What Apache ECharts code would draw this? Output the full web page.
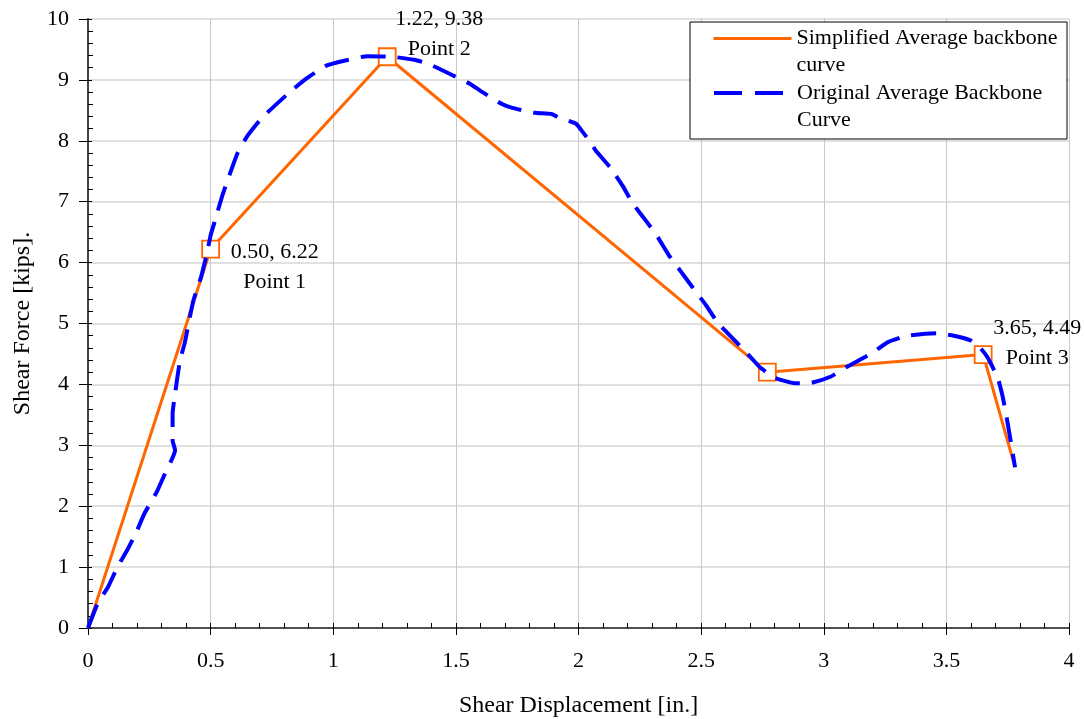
<!DOCTYPE html>
<html><head><meta charset="utf-8">
<script src="https://cdn.jsdelivr.net/npm/echarts@6/dist/echarts.min.js"></script>
<style>html,body{margin:0;padding:0;background:#fff}#c{width:1085px;height:719px}</style>
</head><body><div id="c"></div>
<script>
// ---- data ----
const simpX = [0, 0.50, 1.22, 2.77, 3.65, 3.78];
const simpY = [0, 6.22, 9.38, 4.20, 4.49, 2.64];
const simpMarked = [false, true, true, true, true, false];
const simpLabels = ['', 'Point 1', 'Point 2', '', 'Point 3', ''];

const origX = [0, 0.04, 0.08, 0.12, 0.16, 0.20, 0.23, 0.28, 0.31, 0.355, 0.345, 0.345, 0.355, 0.375, 0.395, 0.415, 0.43, 0.46, 0.485, 0.50, 0.52, 0.55, 0.61, 0.65, 0.71, 0.82, 0.89, 0.97, 1.04, 1.14, 1.24, 1.33, 1.39, 1.49, 1.56, 1.60, 1.69, 1.73, 1.82, 1.89, 1.92, 1.99, 2.02, 2.05, 2.07, 2.13, 2.18, 2.22, 2.28, 2.32, 2.37, 2.42, 2.475, 2.52, 2.57, 2.63, 2.69, 2.74, 2.80, 2.88, 2.94, 3.03, 3.09, 3.20, 3.26, 3.34, 3.46, 3.53, 3.60, 3.64, 3.67, 3.71, 3.73, 3.75, 3.78];
const origY = [0, 0.41, 0.66, 1.00, 1.28, 1.60, 1.88, 2.23, 2.50, 2.92, 3.08, 3.52, 3.85, 4.39, 4.69, 5.10, 5.38, 5.75, 6.15, 6.45, 6.72, 7.13, 7.80, 8.08, 8.38, 8.79, 9.02, 9.23, 9.31, 9.39, 9.38, 9.33, 9.26, 9.07, 8.93, 8.82, 8.60, 8.54, 8.46, 8.44, 8.38, 8.28, 8.13, 7.97, 7.84, 7.56, 7.26, 6.98, 6.66, 6.44, 6.11, 5.84, 5.54, 5.30, 5.00, 4.75, 4.50, 4.28, 4.11, 4.02, 4.02, 4.13, 4.28, 4.52, 4.69, 4.80, 4.84, 4.80, 4.72, 4.59, 4.43, 4.10, 3.79, 3.36, 2.64];

const xTickLabels = ['0', '0.5', '1', '1.5', '2', '2.5', '3', '3.5', '4'];
const yTickLabels = ['0', '1', '2', '3', '4', '5', '6', '7', '8', '9', '10'];
const seriesNames = ['Simplified Average backbone curve', 'Original Average Backbone Curve'];
const legendLines = [['Simplified Average backbone', 'curve'], ['Original Average Backbone', 'Curve']];
const xTitle = 'Shear Displacement [in.]';
const yTitle = 'Shear Force [kips].';

// ---- chart ----
const FF = 'Liberation Serif';
const labelOffsets = {1: [64, 18], 2: [52, -23], 4: [54, -11]};
const seriesColors = ['#FF6600', '#0000FF'];
const seriesWidths = [3, 4];
const legendDash = ['solid', [28, 13]];

const simpData = simpX.map((x, i) => {
  const item = { value: [x, simpY[i]], symbol: simpMarked[i] ? 'rect' : 'none' };
  if (simpLabels[i]) {
    item.label = {
      show: true, position: 'inside', offset: labelOffsets[i],
      formatter: () => '{a|' + x.toFixed(2) + ', ' + simpY[i].toFixed(2) + '}\n{a|' + simpLabels[i] + '}',
      rich: { a: { fontFamily: FF, fontSize: 22, lineHeight: 30, color: '#000', align: 'center' } }
    };
  }
  return item;
});
const origData = origX.map((x, i) => [x, origY[i]]);

const tickStyle = { color: '#000', width: 1 };
const baseX = { type: 'value', min: 0, max: 4, interval: 0.5, position: 'bottom' };
const baseY = { type: 'value', min: 0, max: 10, interval: 1, position: 'left' };

const option = {
  animation: false,
  backgroundColor: '#fff',
  grid: { left: 88, right: 16, top: 19, bottom: 91, containLabel: false, outerBoundsMode: 'none' },
  xAxis: [
    Object.assign({}, baseX, {
      axisLine: { show: true, lineStyle: { color: '#222', width: 1.5 } },
      axisTick: { show: true, inside: true, length: 5, lineStyle: tickStyle },
      minorTick: { show: true, splitNumber: 5, length: 5, lineStyle: tickStyle },
      axisLabel: { margin: 22, fontSize: 22, fontFamily: FF, color: '#000',
        formatter: v => xTickLabels[Math.round(v / 0.5)] },
      splitLine: { show: true, lineStyle: { color: '#c8c8c8', width: 1 } },
      name: xTitle, nameLocation: 'middle', nameGap: 66,
      nameTextStyle: { fontFamily: FF, fontSize: 24, color: '#000' }
    }),
    Object.assign({}, baseX, {
      axisLine: { show: false },
      axisTick: { show: true, inside: false, length: 7, lineStyle: tickStyle },
      axisLabel: { show: false }, splitLine: { show: false }
    })
  ],
  yAxis: [
    Object.assign({}, baseY, {
      axisLine: { show: true, lineStyle: { color: '#444', width: 2 } },
      axisTick: { show: true, inside: true, length: 4, lineStyle: tickStyle },
      minorTick: { show: true, splitNumber: 5, length: 5, lineStyle: tickStyle },
      axisLabel: { margin: 19, fontSize: 22, fontFamily: FF, color: '#000',
        formatter: v => yTickLabels[Math.round(v)] },
      splitLine: { show: true, lineStyle: { color: '#d6d6d6', width: 1.5 } },
      name: yTitle, nameLocation: 'middle', nameGap: 53,
      nameTextStyle: { fontFamily: FF, fontSize: 24, color: '#000' }
    }),
    Object.assign({}, baseY, {
      axisLine: { show: false },
      axisTick: { show: true, inside: false, length: 9, lineStyle: tickStyle },
      axisLabel: { show: false }, splitLine: { show: false }
    })
  ],
  graphic: [{
    type: 'rect', z: 3,
    shape: { x: 690, y: 22, width: 377, height: 117 },
    style: { fill: '#fff', stroke: '#000', lineWidth: 1 }
  }],
  legend: seriesNames.map((n, i) => ({
    data: [n], left: 712, top: [0.5, 55][i], orient: 'vertical', padding: 0,
    itemWidth: 78, itemHeight: 14, itemGap: 0, selectedMode: false, z: 5,
    itemStyle: { opacity: 0 },
    lineStyle: { width: seriesWidths[i], color: seriesColors[i], type: legendDash[i] },
    formatter: () => '{e| }\n{t|' + legendLines[i][0] + '}\n{t|' + legendLines[i][1] + '}',
    textStyle: { fontFamily: FF, fontSize: 22, color: '#000',
      rich: { e: { fontSize: 22, lineHeight: 27 }, t: { fontFamily: FF, fontSize: 22, lineHeight: 27, color: '#000' } } }
  })),
  series: [
    {
      name: seriesNames[0], type: 'line', xAxisIndex: 0, yAxisIndex: 0, z: 2,
      data: simpData, color: seriesColors[0], showSymbol: true, showAllSymbol: true,
      symbolSize: 17,
      itemStyle: { color: '#fff', borderColor: seriesColors[0], borderWidth: 1.8 },
      lineStyle: { color: seriesColors[0], width: seriesWidths[0] },
      emphasis: { disabled: true }
    },
    {
      name: seriesNames[1], type: 'line', xAxisIndex: 0, yAxisIndex: 0, z: 3,
      data: origData, color: seriesColors[1], symbol: 'none', smooth: 0.15,
      lineStyle: { color: seriesColors[1], width: seriesWidths[1], type: [25, 12] },
      emphasis: { disabled: true }
    }
  ]
};
echarts.init(document.getElementById('c'), null, { renderer: 'canvas' }).setOption(option);
</script></body></html>
